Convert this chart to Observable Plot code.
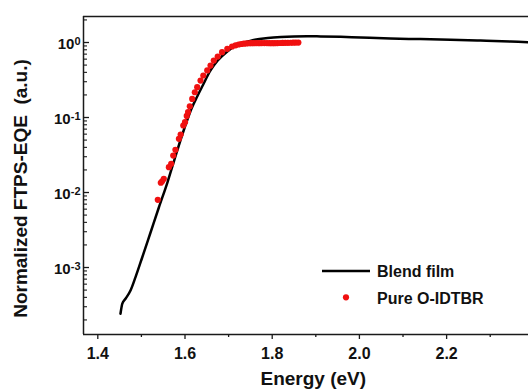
<!DOCTYPE html>
<html>
<head>
<meta charset="utf-8">
<script src="https://cdn.jsdelivr.net/npm/d3@7"></script>
<script src="https://cdn.jsdelivr.net/npm/@observablehq/plot@0.6"></script>
<style>
  html, body { margin: 0; padding: 0; background: #fff; overflow: hidden; }
  #chart svg { display: block; font-family: "Liberation Sans", Arial, sans-serif; font-weight: bold; color: #111; }
</style>
</head>
<body>
<div id="chart"></div>
<script>
// Blend film FTPS-EQE spectrum (normalized)
const blendEnergy = [1.452, 1.4535, 1.456, 1.4635, 1.475, 1.4865, 1.502, 1.52, 1.54, 1.56,
  1.58, 1.60, 1.615, 1.628, 1.64, 1.6585, 1.675, 1.697, 1.715, 1.735,
  1.76, 1.79, 1.82, 1.85, 1.88, 1.911, 1.957, 2.003, 2.071, 2.14,
  2.209, 2.278, 2.347, 2.388, 2.45];
const blendEQE = [2.42e-4, 2.75e-4, 3.28e-4, 3.83e-4, 4.93e-4, 7.43e-4, 1.37e-3, 2.82e-3, 6.31e-3, 1.38e-2,
  3.31e-2, 7.59e-2, 0.132, 0.191, 0.263, 0.424, 0.575, 0.76, 0.90, 0.99,
  1.09, 1.15, 1.185, 1.205, 1.212, 1.205, 1.191, 1.166, 1.131, 1.110,
  1.090, 1.063, 1.031, 1.009, 0.99];

// Pure O-IDTBR FTPS-EQE spectrum (normalized)
const pureEnergy = [1.5376, 1.5445, 1.5475, 1.5514, 1.563, 1.5683, 1.573, 1.578, 1.586, 1.590,
  1.596, 1.600, 1.604, 1.607, 1.611, 1.6165, 1.6225, 1.628, 1.6356, 1.642,
  1.651, 1.6585, 1.666, 1.675, 1.685, 1.697, 1.708, 1.716, 1.723, 1.729,
  1.735, 1.741, 1.747, 1.752, 1.758, 1.764, 1.770, 1.776, 1.782, 1.788,
  1.794, 1.800, 1.806, 1.812, 1.818, 1.824, 1.830, 1.836, 1.842, 1.848,
  1.854, 1.860];
const pureEQE = [0.0080, 0.0135, 0.0141, 0.0152, 0.0218, 0.0241, 0.0311, 0.0371, 0.0520, 0.0593,
  0.0782, 0.0867, 0.105, 0.118, 0.141, 0.177, 0.217, 0.254, 0.311, 0.363,
  0.424, 0.493, 0.575, 0.650, 0.743, 0.824, 0.885, 0.916, 0.940, 0.955,
  0.966, 0.973, 0.977, 0.979, 0.980, 0.982, 0.981, 0.983, 0.984, 0.982,
  0.980, 0.979, 0.981, 0.983, 0.985, 0.987, 0.989, 0.991, 0.993, 0.995,
  0.997, 0.998];

// Axes
const xDomain = [1.3672, 2.3878];
const yDomain = [1.279e-4, 2.222];
const xTicks = [1.4, 1.6, 1.8, 2.0, 2.2];
const xTickLabels = ["1.4", "1.6", "1.8", "2.0", "2.2"];
const xMinorTicks = [1.5, 1.7, 1.9, 2.1, 2.3];
const yTicks = [1e-3, 1e-2, 1e-1, 1];
const yTickLabels = ["10^-3", "10^-2", "10^-1", "10^0"];
const yMinorTicks = [];
for (const decade of [1e-4, 1e-3, 1e-2, 1e-1, 1]) {
  for (let m = 2; m <= 9; m++) {
    const v = m * decade;
    if (v >= yDomain[0] && v <= yDomain[1]) yMinorTicks.push(v);
  }
}

const blend = blendEnergy.map((e, i) => ({energy: e, eqe: blendEQE[i]}));
const pure = pureEnergy.map((e, i) => ({energy: e, eqe: pureEQE[i]}));

const W = 528, H = 392;
const margin = {left: 83, right: 0, top: 16, bottom: 58};
const frameWidth = W - margin.left - margin.right;
const axisColor = "#1a1a1a";

const chart = Plot.plot({
  width: W,
  height: H,
  marginLeft: margin.left,
  marginRight: margin.right,
  marginTop: margin.top,
  marginBottom: margin.bottom,
  x: {domain: xDomain},
  y: {type: "log", domain: yDomain},
  marks: [
    // frame: left, bottom, top
    Plot.ruleX([xDomain[0]], {stroke: axisColor, strokeWidth: 1.5}),
    Plot.ruleY([yDomain[0]], {stroke: axisColor, strokeWidth: 1.5}),
    Plot.ruleY([yDomain[1]], {stroke: axisColor, strokeWidth: 1.5}),
    // x axis: outward ticks
    Plot.axisX(xTicks, {tickSize: 5, tickPadding: 8, fontSize: 16, stroke: axisColor, strokeWidth: 1.3,
      tickFormat: d => xTickLabels[xTicks.indexOf(d)], label: null}),
    Plot.axisX(xMinorTicks, {tickSize: 3, stroke: axisColor, strokeWidth: 1.3, fill: "none", label: null}),
    // y axis: short inward ticks along the left edge, labels outside
    Plot.tickY(yTicks, {y: d => d, insetRight: frameWidth - 6, stroke: axisColor, strokeWidth: 1.3}),
    Plot.tickY(yMinorTicks, {y: d => d, insetRight: frameWidth - 4, stroke: axisColor, strokeWidth: 1.1}),
    Plot.axisY(yTicks, {anchor: "left", tickSize: 0, tickPadding: 3, fontSize: 15, dy: 1.5,
      tickFormat: d => yTickLabels[yTicks.indexOf(d)], label: null}),
    // data
    Plot.line(blend, {x: "energy", y: "eqe", stroke: "#000", strokeWidth: 2.5, curve: "monotone-x", clip: true}),
    Plot.dot(pure, {x: "energy", y: "eqe", r: 3.1, fill: "#f01010", stroke: "none"})
  ]
});

const svg = d3.select(chart);

// exponent formatting for the log-axis labels
svg.selectAll('[aria-label="y-axis tick label"] text').each(function () {
  const t = d3.select(this);
  const [base, exp] = t.text().split("^");
  t.text("");
  t.append("tspan").text(base);
  t.append("tspan").attr("dy", "-0.32em").attr("font-size", "11px").text(exp);
});

// axis titles
svg.append("text")
  .attr("transform", "translate(27,188.5) rotate(-90)")
  .attr("text-anchor", "middle")
  .attr("font-size", 19)
  .attr("fill", "#111")
  .style("white-space", "pre")
  .text("Normalized FTPS-EQE  (a.u.)");

svg.append("text")
  .attr("x", 313.3)
  .attr("y", 385)
  .attr("text-anchor", "middle")
  .attr("font-size", 19)
  .attr("fill", "#111")
  .text("Energy (eV)");

// legend
const legend = svg.append("g").attr("font-size", 16).attr("fill", "#111").attr("text-anchor", "start");
legend.append("line").attr("x1", 322).attr("x2", 370).attr("y1", 271).attr("y2", 271)
  .attr("stroke", "#000").attr("stroke-width", 2.5);
legend.append("text").attr("x", 377).attr("y", 277).text("Blend film");
legend.append("circle").attr("cx", 346).attr("cy", 297.3).attr("r", 3.1).attr("fill", "#f01010");
legend.append("text").attr("x", 377).attr("y", 303.5).text("Pure O-IDTBR");

document.getElementById("chart").appendChild(chart);
</script>
</body>
</html>
